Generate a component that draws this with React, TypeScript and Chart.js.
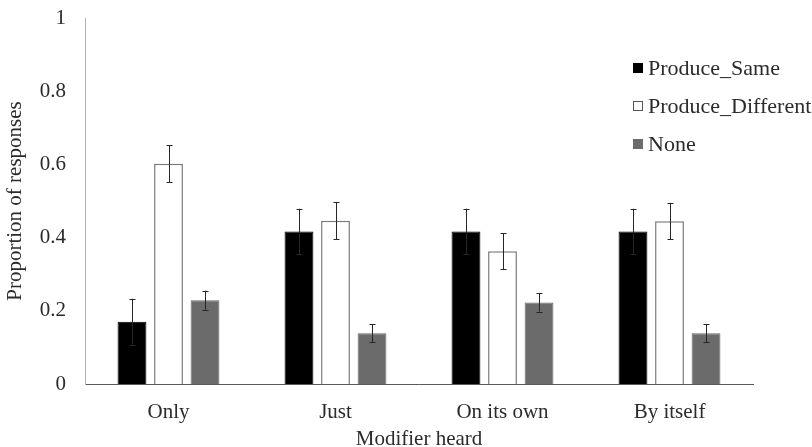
import React, { useEffect, useRef } from "react";
import { Chart, registerables } from "chart.js";

Chart.register(...registerables);

const categories = ["Only", "Just", "On its own", "By itself"];
const seriesNames = ["Produce_Same", "Produce_Different", "None"];
const produceSame = [0.17, 0.417, 0.417, 0.417];
const produceSameErr = [0.063, 0.062, 0.062, 0.062];
const produceDifferent = [0.602, 0.446, 0.363, 0.445];
const produceDifferentErr = [0.05, 0.05, 0.049, 0.05];
const noneValues = [0.229, 0.139, 0.223, 0.139];
const noneErr = [0.026, 0.025, 0.025, 0.025];
const yTicks = [0, 0.2, 0.4, 0.6, 0.8, 1];

const FONT = "'Liberation Serif', 'Times New Roman', serif";
const TEXT = "#2b2b2b";

const errorBarPlugin = {
  id: "errorBars",
  afterDatasetsDraw(chart: any) {
    const ctx = chart.ctx;
    const y = chart.scales.y;
    ctx.save();
    ctx.strokeStyle = "#262626";
    ctx.lineWidth = 1;
    chart.data.datasets.forEach((ds: any, i: number) => {
      const meta = chart.getDatasetMeta(i);
      meta.data.forEach((el: any, j: number) => {
        const v = ds.data[j];
        const e = ds.errors[j];
        const top = y.getPixelForValue(v + e);
        const bot = y.getPixelForValue(v - e);
        const x = Math.round(el.x) + 0.5;
        ctx.beginPath();
        ctx.moveTo(x, top);
        ctx.lineTo(x, bot);
        ctx.moveTo(x - 3, Math.round(top) + 0.5);
        ctx.lineTo(x + 3, Math.round(top) + 0.5);
        ctx.moveTo(x - 3, Math.round(bot) + 0.5);
        ctx.lineTo(x + 3, Math.round(bot) + 0.5);
        ctx.stroke();
      });
    });
    ctx.restore();
  },
};

const legendPlugin = {
  id: "insideLegend",
  afterDraw(chart: any) {
    const ctx = chart.ctx;
    const boxX = 633;
    const textX = 648;
    const startY = 68;
    const step = 38;
    const box = 10;
    ctx.save();
    ctx.font = `22px ${FONT}`;
    ctx.textBaseline = "middle";
    ctx.textAlign = "left";
    chart.data.datasets.forEach((ds: any, i: number) => {
      const cy = startY + i * step;
      ctx.fillStyle = ds.backgroundColor;
      ctx.fillRect(boxX, cy - box / 2, box, box);
      ctx.strokeStyle = ds.legendBorder;
      ctx.lineWidth = 1;
      ctx.strokeRect(boxX + 0.5, cy - box / 2 + 0.5, box - 1, box - 1);
      ctx.fillStyle = TEXT;
      ctx.fillText(ds.label, textX, cy + 1);
    });
    ctx.restore();
  },
};

export default function App() {
  const ref = useRef<HTMLCanvasElement | null>(null);

  useEffect(() => {
    if (!ref.current) return;
    const chart = new Chart(ref.current, {
      type: "bar",
      data: {
        labels: categories,
        datasets: [
          {
            label: seriesNames[0],
            data: produceSame,
            errors: produceSameErr,
            backgroundColor: "#000000",
            borderColor: "#000000",
            legendBorder: "#000000",
            borderWidth: 1,
          } as any,
          {
            label: seriesNames[1],
            data: produceDifferent,
            errors: produceDifferentErr,
            backgroundColor: "#ffffff",
            borderColor: "#7a7a7a",
            legendBorder: "#555555",
            borderWidth: 1.5,
          } as any,
          {
            label: seriesNames[2],
            data: noneValues,
            errors: noneErr,
            backgroundColor: "#6b6b6b",
            borderColor: "#6b6b6b",
            legendBorder: "#6b6b6b",
            borderWidth: 1,
          } as any,
        ],
      },
      options: {
        animation: false,
        responsive: false,
        events: [],
        layout: { padding: { top: 18, right: 59, left: 0, bottom: 0 } },
        datasets: {
          bar: { categoryPercentage: 0.656, barPercentage: 0.79 },
        },
        plugins: {
          legend: { display: false },
          tooltip: { enabled: false },
        },
        scales: {
          x: {
            grid: { display: false, drawTicks: false },
            border: { display: true, color: "#595959", width: 1 },
            ticks: {
              color: TEXT,
              padding: 16,
              font: { family: FONT, size: 21 },
            },
            title: {
              display: true,
              text: "Modifier heard",
              color: TEXT,
              font: { family: FONT, size: 21, lineHeight: 0.72 },
              padding: { top: 0, bottom: 0 },
            },
            afterFit(scale: any) {
              scale.height = 63;
              scale.paddingLeft = 0;
              scale.paddingRight = 0;
            },
          },
          y: {
            min: 0,
            max: 1,
            grid: { display: false, drawTicks: false },
            border: { display: true, color: "#b0b0b0", width: 1 },
            afterBuildTicks(scale: any) {
              scale.ticks = yTicks.map((v) => ({ value: v }));
            },
            ticks: {
              color: TEXT,
              padding: 19,
              font: { family: FONT, size: 21 },
              callback: (v: any) => String(Number(Number(v).toFixed(1))),
            },
            title: {
              display: true,
              text: "Proportion of responses",
              color: TEXT,
              font: { family: FONT, size: 21, lineHeight: 1 },
              padding: { top: 5, bottom: 0 },
            },
            afterFit(scale: any) {
              scale.width = 85;
              scale.paddingTop = 0;
              scale.paddingBottom = 0;
            },
          },
        },
      } as any,
      plugins: [errorBarPlugin, legendPlugin],
    });
    return () => chart.destroy();
  }, []);

  return (
    <div style={{ position: "fixed", left: 0, top: 0, width: 812, height: 447, background: "#ffffff" }}>
      <canvas ref={ref} width={812} height={447} style={{ display: "block" }} />
    </div>
  );
}
